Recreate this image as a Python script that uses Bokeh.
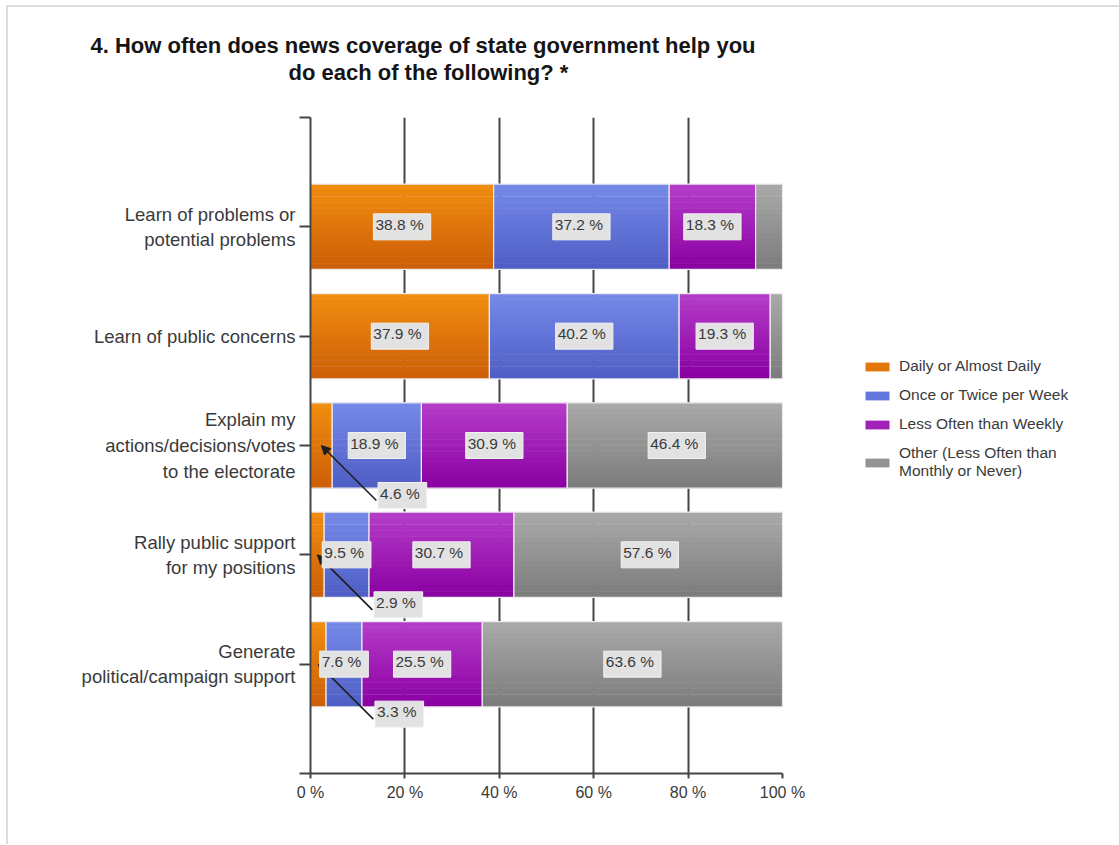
import numpy as np
from bokeh.plotting import figure
from bokeh.models import (Range1d, FixedTicker, Label, Arrow, NormalHead,
                          Legend, LegendItem, Title)
from bokeh.embed import file_html
from bokeh.resources import INLINE

# ---------------- data ----------------
categories = [
    "Learn of problems or\npotential problems",
    "Learn of public concerns",
    "Explain my\nactions/decisions/votes\nto the electorate",
    "Rally public support\nfor my positions",
    "Generate\npolitical/campaign support",
]
series_names = [
    "Daily or Almost Daily",
    "Once or Twice per Week",
    "Less Often than Weekly",
    "Other (Less Often than\nMonthly or Never)",
]
daily = [38.8, 37.9, 4.6, 2.9, 3.3]
weekly = [37.2, 40.2, 18.9, 9.5, 7.6]
less_weekly = [18.3, 19.3, 30.9, 30.7, 25.5]
other = [5.7, 2.6, 46.4, 57.6, 63.6]
x_ticks = [0, 20, 40, 60, 80, 100]
x_tick_labels = ["0 %", "20 %", "40 %", "60 %", "80 %", "100 %"]
title_lines = ["4. How often does news coverage of state government help you",
               "do each of the following? *"]

# ---------------- styling ----------------
FONT = "Liberation Sans"
TXT = "#3a3a3a"
grad = [  # (top colour, bottom colour)
    ((0xF2, 0x8E, 0x10), (0xCC, 0x5E, 0x08)),
    ((0x76, 0x8A, 0xEA), (0x4E, 0x5E, 0xC4)),
    ((0xB6, 0x3E, 0xCA), (0x8A, 0x00, 0xA2)),
    ((0xAA, 0xAA, 0xAA), (0x7C, 0x7C, 0x7C)),
]
mid = ["#e27608", "#6276dc", "#a020b8", "#939393"]

FRAME_W, FRAME_H = 472, 656
px_pct = FRAME_W / 100.0
px_row = FRAME_H / 6.0

p = figure(frame_width=FRAME_W, frame_height=FRAME_H,
           min_border_left=302, min_border_right=337,
           min_border_top=110, min_border_bottom=71,
           x_range=Range1d(0, 100), y_range=Range1d(0, 6),
           output_backend="svg", toolbar_location=None,
           background_fill_color="white", border_fill_color="white",
           styles={"margin-left": "6px", "margin-top": "5px",
                   "border-left": "2px solid #dcdcdc", "border-top": "2px solid #dcdcdc"})
p.outline_line_color = None

rows = [5, 4, 3, 2, 1]
values = [daily, weekly, less_weekly, other]
bar_h = 0.78
N = 14

lefts = [0.0] * len(rows)
segments = []
for k, vals in enumerate(values):
    rights = [l + v for l, v in zip(lefts, vals)]
    segments.append((list(lefts), rights))
    (r0, g0, b0), (r1, g1, b1) = grad[k]
    for j in range(N):
        t = (j + 0.5) / N
        col = "#%02x%02x%02x" % (int(r0 + (r1 - r0) * t), int(g0 + (g1 - g0) * t), int(b0 + (b1 - b0) * t))
        ys = [r + bar_h / 2 - (j + 0.5) * bar_h / N for r in rows]
        p.hbar(y=ys, left=lefts, right=rights, height=bar_h / N * 1.08,
               fill_color=col, line_color=None)
    p.hbar(y=rows, left=lefts, right=rights, height=bar_h,
           fill_color=None, line_color="#ececec", line_width=1.2)
    lefts = rights

# legend (off-range dummy renderers supply the swatches)
items = []
for k, name in enumerate(series_names):
    r = p.hbar(y=[-5], left=[0], right=[1], height=0.5, fill_color=mid[k], line_color=None)
    items.append(LegendItem(label=name, renderers=[r]))
legend = Legend(items=items, location=(80, 293), orientation="vertical",
                glyph_width=30, glyph_height=11, label_height=18, spacing=11,
                label_standoff=7, padding=0, margin=0,
                label_text_font=FONT, label_text_font_size="15.5px",
                label_text_color=TXT, border_line_color=None,
                background_fill_alpha=0)
p.add_layout(legend, "right")

# call-out arrows for the narrow "Daily" segments
callouts = []
for i, v in enumerate(daily):
    if v < 7:
        cx = segments[0][0][i] + v / 2
        callouts.append((cx, rows[i], v))
        p.add_layout(Arrow(x_start=cx + 55 / px_pct, y_start=rows[i] - 55 / px_row,
                           x_end=cx, y_end=rows[i],
                           line_color="#1e1e1e", line_width=1.6,
                           end=NormalHead(size=9, fill_color="#1e1e1e", line_color="#1e1e1e")))

def box_label(x, y, text, xo=0, yo=0):
    p.add_layout(Label(x=x, y=y, text=text, x_offset=xo, y_offset=yo,
                       text_align="center", text_baseline="middle",
                       text_font=FONT, text_font_size="15.5px", text_color=TXT,
                       background_fill_color="#e2e2e2", border_line_color="#f2f2f2",
                       border_line_width=1, padding=[2, 7, 2, 7]))

for k, vals in enumerate(values):
    for i, v in enumerate(vals):
        if v >= 7:
            box_label((segments[k][0][i] + segments[k][1][i]) / 2, rows[i], f"{v:.1f} %")
for cx, cy, v in callouts:
    box_label(cx, cy, f"{v:.1f} %", xo=81, yo=-50)

# title: spacer, then line 2, then line 1 (stacked outward from the frame)
p.add_layout(Title(text=" ", text_font_size="1px", standoff=30), "above")
p.add_layout(Title(text=title_lines[1], align="left", offset=-22, standoff=0,
                   text_font=FONT, text_font_size="22px", text_font_style="bold",
                   text_color="#151515"), "above")
p.add_layout(Title(text=title_lines[0], align="left", offset=-220, standoff=0,
                   text_font=FONT, text_font_size="22px", text_font_style="bold",
                   text_color="#151515"), "above")

# axes
p.xaxis.ticker = FixedTicker(ticks=x_ticks)
p.xaxis.major_label_overrides = {t: s for t, s in zip(x_ticks, x_tick_labels)}
p.yaxis.ticker = FixedTicker(ticks=[0] + rows[::-1] + [6])
ov = {0: "", 6: ""}
for r, c in zip(rows, categories):
    ov[r] = c
p.yaxis.major_label_overrides = ov
for ax in (p.xaxis, p.yaxis):
    ax.axis_line_color = "#444444"
    ax.axis_line_width = 2
    ax.major_tick_line_color = "#444444"
    ax.major_tick_line_width = 2
    ax.major_tick_in = 0
    ax.minor_tick_line_color = None
    ax.major_label_text_font = FONT
    ax.major_label_text_color = TXT
p.xaxis.major_tick_out = 5
p.xaxis.major_label_text_font_size = "16px"
p.xaxis.major_label_standoff = 5
p.yaxis.major_tick_out = 11
p.yaxis.major_label_text_font_size = "18.5px"
p.yaxis.major_label_text_line_height = 1.22
p.yaxis.major_label_standoff = 4

p.xgrid.ticker = FixedTicker(ticks=x_ticks)
p.xgrid.grid_line_color = "#444444"
p.xgrid.grid_line_width = 2
p.ygrid.grid_line_color = None

open("out.html", "w").write(file_html(p, INLINE))
